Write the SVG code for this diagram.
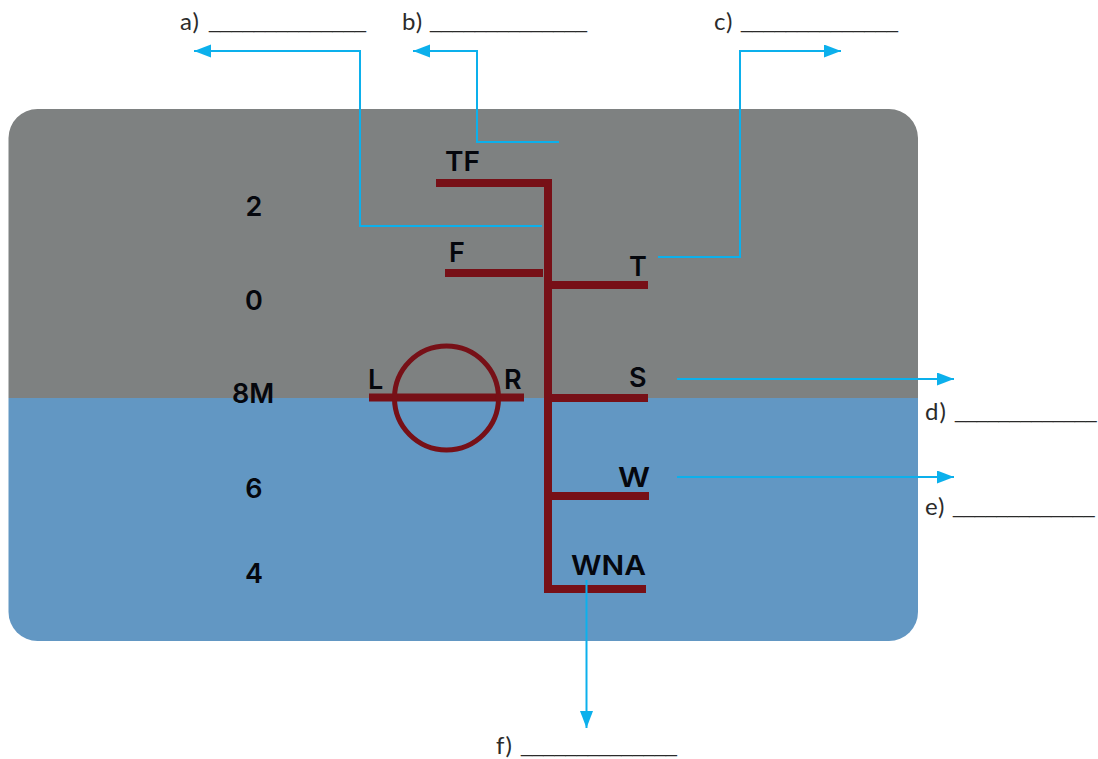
<svg xmlns="http://www.w3.org/2000/svg" width="1098" height="759" viewBox="0 0 1098 759">
<style>
.ans{font:400 24px "Lato","Liberation Sans",sans-serif;fill:#2b2b2b;letter-spacing:1px}
.blank{font:400 22px "Liberation Sans",sans-serif;fill:#2b2b2b}
.blank2{font:400 19.6px "Liberation Sans",sans-serif;fill:#2b2b2b}
.lab{font:600 27px "Inter","Liberation Sans",sans-serif;fill:#05070d}
.mast{fill:none;stroke:#771017;stroke-width:8}
.con{fill:none;stroke:#0cb0ec;stroke-width:2}
</style>
<defs>
<marker id="arr" markerUnits="userSpaceOnUse" markerWidth="18" markerHeight="14" refX="17" refY="6.500" orient="auto"><path d="M0 0L17 6.500L0 13Z" fill="#0cb0ec"/></marker>
</defs>
<g id="background">
<path d="M8.500 398V138a29 29 0 0 1 29-29H889a29 29 0 0 1 29 29V398Z" fill="#7e8181"/>
<path d="M8.500 398H918V612a29 29 0 0 1-29 29H37.500a29 29 0 0 1-29-29Z" fill="#6297c3"/>
</g>
<g id="mast">
<path class="mast" d="M436 183H548V589H646"/>
<path class="mast" d="M445 273H543"/>
<path class="mast" d="M548 285H648"/>
<path class="mast" d="M548 398H648"/>
<path class="mast" d="M548 496H649"/>
</g>
<g id="node-load">
<path class="mast" d="M369 397.500H524"/>
<circle cx="446.500" cy="398" r="52" fill="none" stroke="#771017" stroke-width="5"/>
</g>
<g id="depths">
<text class="lab" x="254" y="216" text-anchor="middle">2</text>
<text class="lab" x="254" y="310" text-anchor="middle">0</text>
<text class="lab" x="253" y="403" text-anchor="middle">8M</text>
<text class="lab" x="254" y="498" text-anchor="middle">6</text>
<text class="lab" x="254" y="583" text-anchor="middle">4</text>
</g>
<g id="labels">
<text class="lab" x="445" y="171" textLength="35" lengthAdjust="spacingAndGlyphs">TF</text>
<text class="lab" x="449" y="262">F</text>
<text class="lab" x="629" y="276">T</text>
<text class="lab" x="368" y="389">L</text>
<text class="lab" x="504" y="389">R</text>
<text class="lab" x="629" y="387">S</text>
<text class="lab" x="618" y="487" textLength="32" lengthAdjust="spacingAndGlyphs">W</text>
<text class="lab" x="571" y="575" textLength="75" lengthAdjust="spacingAndGlyphs">WNA</text>
</g>
<g id="connectors">
<path class="con" marker-end="url(#arr)" d="M542 226H360V51H194"/>
<path class="con" marker-end="url(#arr)" d="M559 142H477V51H413"/>
<path class="con" marker-end="url(#arr)" d="M658 257H740V51H841"/>
<path class="con" marker-end="url(#arr)" d="M677 379H954"/>
<path class="con" marker-end="url(#arr)" d="M677 477H954"/>
<path class="con" marker-end="url(#arr)" d="M586.500 580V728"/>
</g>
<g id="answers">
<text class="ans" x="180" y="30">a)</text><text class="blank" x="209" y="28" textLength="157" lengthAdjust="spacingAndGlyphs">______________</text>
<text class="ans" x="402" y="30">b)</text><text class="blank" x="430" y="28" textLength="157" lengthAdjust="spacingAndGlyphs">______________</text>
<text class="ans" x="714" y="30">c)</text><text class="blank" x="741" y="28" textLength="157" lengthAdjust="spacingAndGlyphs">______________</text>
<text class="ans" x="925" y="420">d)</text><text class="blank2" x="955" y="418">_____________</text>
<text class="ans" x="925" y="515">e)</text><text class="blank2" x="953" y="513">_____________</text>
<text class="ans" x="496" y="754">f)</text><text class="blank" x="521" y="752" textLength="156" lengthAdjust="spacingAndGlyphs">______________</text>
</g>
</svg>
